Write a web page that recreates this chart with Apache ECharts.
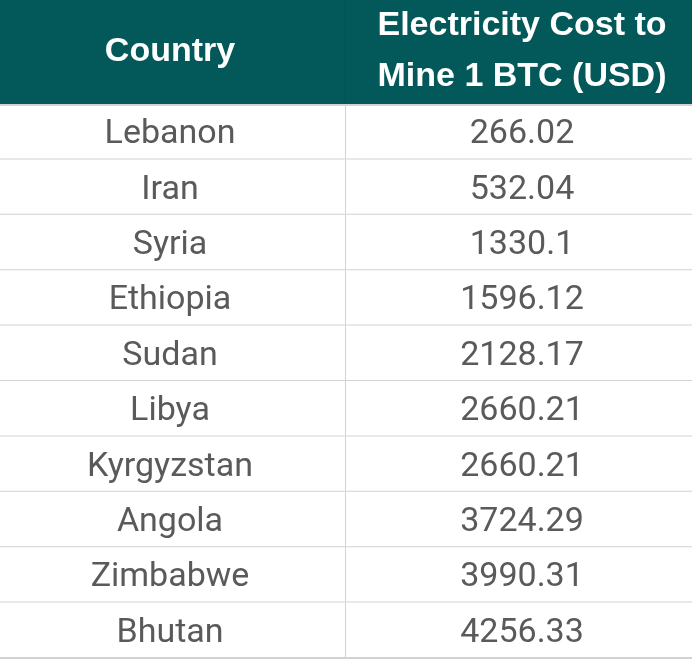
<!DOCTYPE html>
<html><head><meta charset="utf-8">
<script src="https://cdn.jsdelivr.net/npm/echarts@6/dist/echarts.min.js"></script>
<style>html,body{margin:0;padding:0;background:#fff}#c{width:692px;height:663px}</style>
</head><body><div id="c"></div>
<script>
const columns = ['Country', 'Electricity Cost to\nMine 1 BTC (USD)'];
const countries = ['Lebanon','Iran','Syria','Ethiopia','Sudan','Libya','Kyrgyzstan','Angola','Zimbabwe','Bhutan'];
const costs = [266.02, 532.04, 1330.1, 1596.12, 2128.17, 2660.21, 2660.21, 3724.29, 3990.31, 4256.33];

const BODY_FONT = 'Roboto';
const HEAD_FONT = '"Liberation Sans", Arial';
const headerData = columns.map((t, i) => [i, 0, t]);
const bodyData = [];
countries.forEach((c, i) => {
  bodyData.push([0, i, c]);
  bodyData.push([1, i, String(costs[i])]);
});
const colShift = [-3, 3];

function cellBox(api) {
  const p = api.coord([api.value(0), api.value(1)]);
  const s = api.size([1, 1]);
  return {x: p[0] - s[0] / 2, y: p[1] - s[1] / 2, w: s[0], h: s[1], cx: p[0], cy: p[1]};
}

function renderHeader(params, api) {
  const b = cellBox(api);
  const t = headerData[params.dataIndex][2];
  const multi = t.indexOf('\n') >= 0;
  const children = [
    {type: 'rect', shape: {x: b.x, y: b.y, width: b.w, height: b.h}, style: {fill: '#03585a'}},
    {type: 'text', x: b.cx + colShift[api.value(0)], y: b.cy + (multi ? -1 : 0), style: {text: t, fill: '#ffffff', font: 'bold 34px ' + HEAD_FONT,
      align: 'center', verticalAlign: 'middle', lineHeight: 51}}
  ];
  if (api.value(0) === 0) {
    children.push({type: 'line', shape: {x1: b.x + b.w, y1: b.y, x2: b.x + b.w, y2: b.y + b.h},
      style: {stroke: '#2a3a3a', lineWidth: 1}});
  }
  return {type: 'group', children};
}

function renderBody(params, api) {
  const b = cellBox(api);
  const t = bodyData[params.dataIndex][2];
  const children = [
    {type: 'rect', shape: {x: b.x, y: b.y, width: b.w, height: b.h}, style: {fill: '#ffffff'}},
    {type: 'line', shape: {x1: b.x, y1: b.y + b.h, x2: b.x + b.w, y2: b.y + b.h},
      style: {stroke: '#d2d2d2', lineWidth: 2}},
    {type: 'text', x: b.cx + colShift[api.value(0)], y: b.cy + 3, style: {text: t, fill: '#5a5a5a', font: '34px ' + BODY_FONT,
      align: 'center', verticalAlign: 'middle'}}
  ];
  if (api.value(1) === 0) {
    children.push({type: 'line', shape: {x1: b.x, y1: b.y + 1, x2: b.x + b.w, y2: b.y + 1},
      style: {stroke: '#d2d2d2', lineWidth: 2}});
  }
  if (api.value(0) === 0) {
    children.push({type: 'line', shape: {x1: b.x + b.w, y1: b.y, x2: b.x + b.w, y2: b.y + b.h},
      style: {stroke: '#d2d2d2', lineWidth: 2}});
  }
  return {type: 'group', children};
}

const chart = echarts.init(document.getElementById('c'), null, {renderer: 'canvas'});
chart.setOption({
  animation: false,
  grid: [
    {left: 0, right: 0, top: 0, height: 104},
    {left: 0, right: 0, top: 104, height: 554}
  ],
  xAxis: [
    {type: 'category', gridIndex: 0, data: [0, 1], show: false},
    {type: 'category', gridIndex: 1, data: [0, 1], show: false}
  ],
  yAxis: [
    {type: 'category', gridIndex: 0, data: [0], show: false},
    {type: 'category', gridIndex: 1, data: countries.map((c, i) => i), inverse: true, show: false}
  ],
  series: [
    {type: 'custom', xAxisIndex: 0, yAxisIndex: 0, renderItem: renderHeader,
      data: headerData.map(d => [d[0], d[1]])},
    {type: 'custom', xAxisIndex: 1, yAxisIndex: 1, renderItem: renderBody,
      data: bodyData.map(d => [d[0], d[1]])}
  ]
});
</script></body></html>
